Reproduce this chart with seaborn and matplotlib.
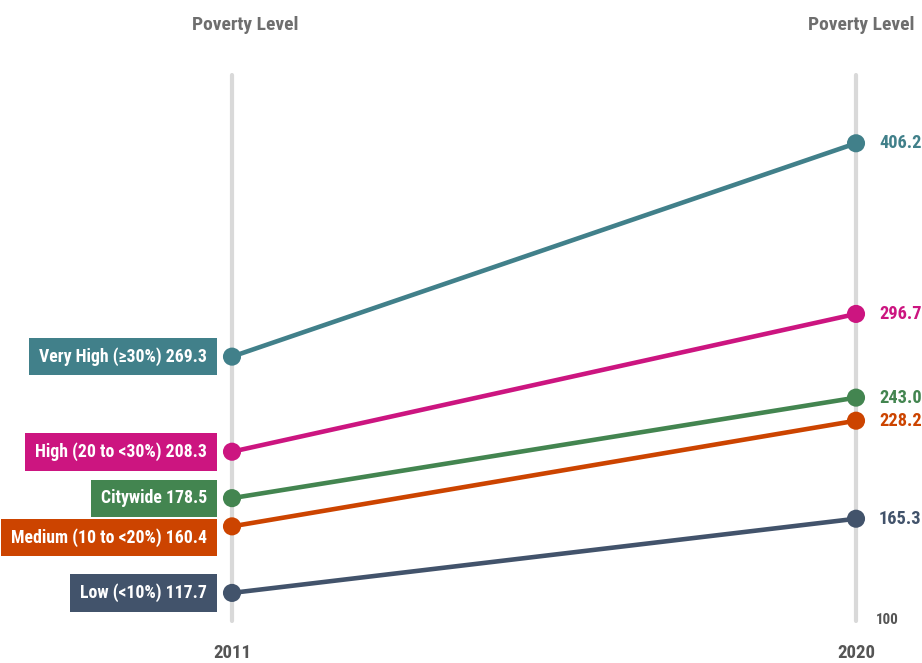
import os
import matplotlib
matplotlib.use("Agg")
import matplotlib.pyplot as plt
from matplotlib import font_manager as fm
from matplotlib.path import Path
import seaborn as sns
import pandas as pd

categories = ["Very High (\u226530%)", "High (20 to <30%)", "Citywide", "Medium (10 to <20%)", "Low (<10%)"]
years = [2011, 2020]
values_2011 = [269.3, 208.3, 178.5, 160.4, 117.7]
values_2020 = [406.2, 296.7, 243.0, 228.2, 165.3]
colors = ["#41808a", "#cc1580", "#438550", "#cc4400", "#42536b"]
header = "Poverty Level"
axis_min_label = "100"

# vertical nudge (pixels) of the left-hand label boxes to avoid overlap
label_nudge = [0, 0, 0, -11, 0]

sns.set_theme(style="white")


def pick_font():
    files = [f.fname for f in fm.fontManager.ttflist]
    prefs = ["NotoSans-ExtraCondensedBold", "LiberationSansNarrow-Bold", "NotoSans-CondensedBold",
             "RobotoCondensed-Bold", "DejaVuSansCondensed-Bold"]
    for p in prefs:
        for fn in files:
            base = os.path.splitext(os.path.basename(fn))[0]
            if base == p:
                return fm.FontProperties(fname=fn), p
    return fm.FontProperties(family="DejaVu Sans", weight="bold"), "fallback"


FP, FPNAME = pick_font()
SC = 1.0 if FPNAME.startswith("NotoSans-Extra") else 0.8


def fp(size):
    p = FP.copy()
    p.set_size(size * SC)
    return p


def label_box(x0, y0, width, height, mutation_size):
    hp = 0.56 * mutation_size
    vp = 0.53 * mutation_size
    x0, y0 = x0 - hp, y0 - vp
    x1, y1 = x0 + width + 2 * hp, y0 + height + 2 * vp
    return Path([(x0, y0), (x1, y0), (x1, y1), (x0, y1), (x0, y0)], closed=True)


rows = []
for c, a, b in zip(categories, values_2011, values_2020):
    rows.append({"cat": c, "year": years[0], "value": a})
    rows.append({"cat": c, "year": years[1], "value": b})
df = pd.DataFrame(rows)
palette = dict(zip(categories, colors))

fig = plt.figure(figsize=(9.22, 6.63), dpi=100)
W, H = 922, 663
ax = fig.add_axes([232 / W, 1 - 620.5 / H, (856 - 232) / W, (620.5 - 75) / H])
ax.set_xlim(years[0], years[1])
ax.set_ylim(100, 450)

for yr in years:
    ax.axvline(yr, color="#d9d9d9", lw=3.0, zorder=0, clip_on=False)

sns.lineplot(data=df, x="year", y="value", hue="cat", palette=palette, ax=ax,
             lw=3.3, legend=False, zorder=2)
sns.scatterplot(data=df, x="year", y="value", hue="cat", palette=palette, ax=ax,
                s=170, edgecolor="none", legend=False, zorder=3, clip_on=False)
for coll in ax.collections:
    coll.set_clip_on(False)
for ln in ax.lines:
    ln.set_clip_on(False)

for c, a, b, col, nd in zip(categories, values_2011, values_2020, colors, label_nudge):
    ax.annotate(f"{c} {a:.1f}", xy=(years[0], a), xytext=(-25, nd), textcoords="offset pixels",
                ha="right", va="center", color="white", fontproperties=fp(16),
                bbox=dict(boxstyle=label_box, fc=col, ec="none"), annotation_clip=False)
    ax.annotate(f"{b:.1f}", xy=(years[1], b), xytext=(23, 0), textcoords="offset pixels",
                ha="left", va="center", color=col, fontproperties=fp(16.5),
                annotation_clip=False)

grey = "#6e6e6e"
fig.text(245 / W, 1 - 25 / H, header, ha="center", va="center", color=grey, fontproperties=fp(17.5))
fig.text(861 / W, 1 - 25 / H, header, ha="center", va="center", color=grey, fontproperties=fp(17.5))
ax.annotate(axis_min_label, xy=(years[1], 100), xytext=(20, 0), textcoords="offset pixels",
            ha="left", va="center", color="#555555", fontproperties=fp(13.5), annotation_clip=False)
for yr in years:
    ax.annotate(str(yr), xy=(yr, 100), xytext=(0, -33), textcoords="offset pixels",
                ha="center", va="center", color="#555555", fontproperties=fp(17),
                annotation_clip=False)

ax.axis("off")
fig.savefig("out.png", dpi=100)
